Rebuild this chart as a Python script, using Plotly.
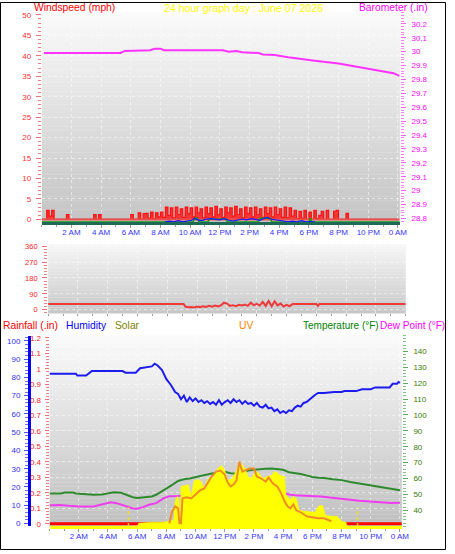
import plotly.graph_objects as go

W, H = 455, 554
FONT = "Liberation Sans, Arial, sans-serif"


def fx(p):
    return p / W


def fy(p):
    return 1 - p / H


# ---------------- data ----------------
x_tick_vals = [2, 4, 6, 8, 10, 12, 14, 16, 18, 20, 22, 24]
x_tick_text = ["2 AM", "4 AM", "6 AM", "8 AM", "10 AM", "12 PM", "2 PM", "4 PM",
               "6 PM", "8 PM", "10 PM", "0 AM"]

# Panel 1 : wind gust (mph), 10-minute samples
gust_mph = [
    0, 0, 2.2, 0.8, 2.2, 0,
    0, 0, 0, 0, 1.2, 0,
    0, 0, 0, 0, 0, 0,
    0, 0, 0, 1.2, 0, 1.2,
    0, 0, 0, 0, 0, 0,
    0, 0, 0, 0, 0, 0,
    1.2, 0, 0, 1.6, 0, 1.4,
    1.5, 0.3, 1.8, 0.2, 1.6, 0.6,
    1.8, 0.5, 3.0, 1.0, 2.8, 0.4,
    3.0, 1.2, 2.6, 0.5, 3.0, 1.4,
    2.8, 0.6, 3.0, 1.6, 2.6, 0.4,
    3.0, 1.4, 2.8, 0.6, 3.2, 1.2,
    2.6, 0.5, 3.0, 1.6, 2.8, 0.8,
    3.2, 1.2, 2.6, 0.4, 3.0, 1.4,
    2.8, 0.6, 3.0, 1.2, 2.6, 0.5,
    3.0, 1.4, 2.8, 0.6, 3.0, 1.2,
    2.6, 0.5, 3.0, 0.4, 2.8, 0.8,
    2.2, 0.2, 2.0, 0.3, 2.2, 0,
    1.8, 0, 2.2, 0.2, 1.0, 2.0,
    0, 2.2, 0, 0, 2.0, 2.2,
    0, 0, 0, 1.5, 0, 0,
    0, 0, 0, 0, 0, 0,
    0, 0, 0, 0, 0, 0,
    0, 0, 0, 0, 0, 0,
    0,
]
gust_time_h = [i / 6 for i in range(len(gust_mph))]

avg_time_h = [8.3, 8.6, 8.9, 9.2, 9.5, 9.8, 10.1, 10.3, 10.5, 10.8, 11.1, 11.4, 11.7,
              12.0, 12.3, 12.6, 12.9, 13.2, 13.5, 13.8, 14.1, 14.4, 14.7, 15.0, 15.2,
              15.4, 15.7, 16.0, 16.3, 16.6, 16.9, 17.2, 17.5, 17.8, 18.1, 18.4]
avg_mph = [0, 0.2, 0, 0.3, 0, 0.2, 0.4, 0.9, 0.5, 0.3, 0.7, 0.8, 0.7,
           0.5, 0.8, 0.4, 0.2, 0.5, 0.7, 0.5, 0.8, 0.6, 0.4, 0.9, 1.1,
           0.7, 0.5, 0.3, 0.1, 0, 0.2, 0, 0.3, 0, 0.1, 0]

speed_time_h = [0, 10.2, 10.3, 10.5, 10.6, 11.2, 11.3, 11.8, 12.4, 12.5, 14.6, 14.7,
                15.4, 15.5, 18.0, 18.1, 18.2, 24.1]
speed_mph = [0, 0, 0.9, 0.9, 0, 0, 0.8, 0.6, 0.8, 0, 0, 0.9, 0.9, 0, 0, 0.9, 0, 0]

baro_time_h = [0.15, 1.0, 1.5, 2.5, 3.5, 4.5, 5.3, 5.6, 7.3, 7.6, 8.0, 8.25, 12.2, 12.6,
               13.1, 13.5, 14.6, 14.9, 15.7, 16.6, 17.5, 18.4, 20.0, 21.4, 22.6, 23.7, 24.1]
baro_in = [29.99, 29.99, 29.985, 29.99, 29.985, 29.99, 29.99, 30.005, 30.01, 30.02, 30.02,
           30.01, 30.01, 30.0, 30.005, 29.995, 29.99, 29.98, 29.975, 29.96, 29.95, 29.935,
           29.915, 29.89, 29.87, 29.845, 29.825]

# Panel 2 : wind direction (degrees)
dir_time_h = [0, 9.1, 9.2, 9.4, 9.6, 9.8, 10.0, 10.2, 10.4, 10.6, 10.8, 11.0, 11.2, 11.4,
              11.6, 11.8, 12.0, 12.2, 12.4, 12.6, 12.8, 13.0, 13.2, 13.4, 13.6, 13.8,
              14.0, 14.2, 14.4, 14.6, 14.8, 15.0, 15.2, 15.4, 15.6, 15.8, 16.0, 16.2,
              16.4, 18.0, 18.1, 18.2, 24]
dir_deg = [32, 32, 18, 14, 16, 13, 18, 15, 20, 16, 22, 17, 24, 19,
           25, 40, 35, 22, 26, 20, 28, 24, 30, 22, 40, 26,
           34, 24, 45, 22, 50, 20, 48, 25, 35, 18, 28, 20,
           32, 32, 22, 32, 32]
compass_vals = [0, 90, 180, 270, 360]
compass_text = ["S", "W", "N", "E", "S"]

# Panel 3
hum_time_h = [0.0, 1.8, 1.9, 2.5, 2.9, 4.0, 5.0, 5.2, 5.9, 6.2, 7.0, 7.2, 7.4, 7.7, 8.0,
              8.3, 8.6, 8.8, 9.0, 9.2, 9.4, 9.6, 9.8, 10.0, 10.2, 10.4, 10.6, 10.8,
              11.0, 11.2, 11.4, 11.6, 11.8, 12.0, 12.2, 12.4, 12.6, 12.8, 13.0, 13.2,
              13.4, 13.6, 13.8, 14.0, 14.2, 14.4, 14.6, 14.8, 15.0, 15.2, 15.4, 15.6,
              15.8, 16.0, 16.2, 16.4, 16.6, 16.8, 17.0, 17.2, 17.4, 17.6, 17.8, 18.0,
              18.2, 18.4, 18.8, 19.5, 20.0, 20.2, 21.0, 21.4, 22.0, 22.3, 23.3, 23.5,
              23.8, 23.9, 24.0]
humidity_pct = [82, 82, 81, 81, 83.5, 83.5, 83.5, 82.6, 82.6, 85, 86, 87.5, 86.5, 84, 79,
                76, 72, 71, 68, 70, 66.5, 69, 67, 68.5, 66.5, 67.5, 66, 67,
                65.5, 66.5, 65, 67.5, 65, 66.5, 67.5, 66, 68, 66.5, 67.5, 65.5,
                67, 65.5, 66, 64.5, 66, 64, 63.5, 65, 63, 63.5, 61.5, 62.5,
                60.5, 61.5, 60.5, 62, 61.5, 63.5, 64.5, 64, 66, 66.5, 68, 69,
                70.5, 71.5, 71.5, 72, 72, 72.5, 72.5, 73.5, 73.5, 74.5, 74.5, 76.5,
                76.5, 77.5, 77]

temp_time_h = [0.0, 0.8, 1.0, 1.6, 1.8, 2.5, 3.0, 3.6, 4.0, 4.4, 4.9, 5.3, 5.7, 6.0, 6.4,
               6.8, 7.0, 7.3, 7.7, 8.0, 8.4, 8.8, 9.2, 9.6, 10.0, 10.4, 10.8, 11.2, 11.6,
               12.0, 12.4, 12.8, 13.2, 13.6, 14.0, 14.4, 14.8, 15.2, 15.6, 16.0, 16.4,
               16.8, 17.2, 17.6, 18.0, 18.4, 18.8, 19.4, 20.0, 20.6, 21.2, 21.8, 22.4,
               23.0, 23.6, 24.0]
temp_f = [50.5, 50.5, 51.2, 51.2, 50.6, 50, 49.8, 50, 50.8, 51.3, 51, 49.5, 48.2, 47.7, 48,
          48.3, 48.7, 49.8, 52, 53.5, 56, 58.5, 59.5, 60, 61, 61.8, 62.5, 63.3, 63.5,
          64.3, 63.3, 63, 63.6, 65, 65.5, 66, 66.2, 66.3, 66, 65.5, 64,
          63.5, 62.8, 62, 61, 60.5, 60.3, 59.5, 59, 57.8, 56.8, 55.8, 55,
          54, 53.2, 52.6]

dew_time_h = [0.0, 0.7, 1.3, 2.0, 3.0, 3.5, 4.2, 4.6, 5.2, 5.7, 6.0, 6.4, 6.8, 7.3, 7.8,
              8.2, 8.8, 9.4, 10.0, 10.6, 11.2, 12.0, 12.6, 13.2, 13.8, 14.4, 15.0, 15.6,
              16.0, 16.4, 16.8, 17.4, 18.0, 18.6, 19.2, 20.0, 20.6, 21.2, 22.0, 22.8,
              23.4, 24.0]
dew_f = [43.2, 43.4, 42.8, 42.4, 42.4, 43.5, 45, 44.5, 42.5, 41.2, 41, 42, 43.5, 44.5, 47.5,
         48.8, 49, 49.7, 50, 50.5, 50.8, 51, 51.5, 51.5, 52.3, 52.5, 52.5, 52.3,
         51, 50, 49.5, 49.3, 49, 48.7, 48, 47.5, 46.7, 46, 45.5, 45.2,
         44.6, 44.8]

solar_time_h = [0, 6.0, 6.1, 7.0, 7.8, 8.3, 8.5, 8.6, 8.75, 8.85, 8.95, 9.0, 9.2, 9.5, 9.7,
                9.9, 10.2, 10.4, 10.6, 10.8, 11.0, 11.2, 11.5, 11.8, 12.0, 12.2, 12.5,
                12.8, 13.0, 13.2, 13.4, 13.6, 13.8, 14.1, 14.3, 14.6, 14.9, 15.2, 15.4,
                15.6, 15.8, 16.1, 16.2, 16.5, 16.7, 16.9, 17.1, 17.5, 17.9, 18.2, 18.4,
                18.7, 18.9, 19.3, 19.7, 20.0, 20.3, 20.4, 24.13]
solar_wm2 = [0, 0, 30, 40, 40, 50, 60, 250, 300, 280, 60, 400, 410, 420, 310,
             460, 470, 450, 380, 460, 500, 480, 580, 610, 560, 460, 480,
             560, 650, 620, 580, 500, 480, 550, 540, 480, 500, 510, 550,
             540, 510, 500, 310, 270, 300, 280, 160, 150, 140, 140, 200,
             210, 110, 100, 100, 50, 40, 0, 0]

uv_time_h = [8.2, 8.4, 8.6, 8.8, 8.9, 9.0, 9.1, 9.4, 9.7, 10.0, 10.3, 10.6, 10.9, 11.1,
             11.4, 11.7, 12.0, 12.2, 12.4, 12.6, 12.8, 13.0, 13.2, 13.4, 13.7, 14.0, 14.2,
             14.5, 14.8, 15.0, 15.3, 15.6, 15.8, 16.1, 16.3, 16.5, 16.7, 16.9, 17.2,
             17.6, 18.0, 18.4, 18.8, 19.1, 19.3]
uv_index = [0.3, 1.5, 2.0, 1.8, 0.3, 0.3, 2.8, 2.9, 2.8, 3.2, 3.6, 3.8, 4.5, 5.0,
            5.5, 5.6, 5.2, 4.4, 4.0, 4.2, 4.6, 6.5, 5.5, 5.6, 5.8, 5.8, 5.0,
            4.8, 4.5, 4.9, 4.3, 4.0, 3.5, 2.5, 2.0, 1.8, 2.2, 1.6, 1.4,
            1.0, 0.9, 0.8, 0.8, 0.6, 0.5]

rain_time_h = [0, 24.13]
rain_in = [0, 0]

sun_event_h = [5.4, 21.1]

# ---------------- layout geometry (pixels) ----------------
P1 = dict(x0=42.5, x1=407, y0=10.5, y1=222)
P2 = dict(x0=49, x1=413, y0=244, y1=313.5)
P3 = dict(x0=50.5, x1=409, y0=336, y1=528)


def dom_x(p):
    return [fx(p["x0"]), fx(p["x1"])]


def dom_y(p):
    return [fy(p["y1"]), fy(p["y0"])]


def bands(p, c_top, c_bot, n=48):
    out = []
    h = (p["y1"] - p["y0"]) / n
    for i in range(n):
        t = i / (n - 1)
        c = [round(c_top[k] + (c_bot[k] - c_top[k]) * t) for k in range(3)]
        out.append(dict(type="rect", xref="paper", yref="paper", layer="below",
                        x0=fx(p["x0"]), x1=fx(p["x1"]),
                        y0=fy(p["y0"] + (i + 1) * h + 0.3), y1=fy(p["y0"] + i * h),
                        line=dict(width=0), fillcolor="rgb(%d,%d,%d)" % tuple(c)))
    return out


fig = go.Figure()

# Panel 1 traces
fig.add_trace(go.Scatter(x=gust_time_h, y=gust_mph, mode="lines", line_shape="hv",
                         line=dict(color="#ff1010", width=1.2), fill="tozeroy",
                         fillcolor="rgba(255,16,16,0.8)", xaxis="x", yaxis="y"))
fig.add_trace(go.Scatter(x=[0, 24.1], y=[0, 0], mode="lines",
                         line=dict(color="#e85050", width=2), xaxis="x", yaxis="y"))
fig.add_trace(go.Scatter(x=speed_time_h, y=speed_mph, mode="lines",
                         line=dict(color="#10a010", width=1.5), xaxis="x", yaxis="y3"))
fig.add_trace(go.Scatter(x=avg_time_h, y=avg_mph, mode="lines",
                         line=dict(color="#1a1aff", width=1.2), xaxis="x", yaxis="y3"))
fig.add_trace(go.Scatter(x=baro_time_h, y=baro_in, mode="lines",
                         line=dict(color="#ff33ff", width=2), xaxis="x", yaxis="y2"))

# Panel 2
fig.add_trace(go.Scatter(x=dir_time_h, y=dir_deg, mode="lines",
                         line=dict(color="#ee3a3a", width=2), xaxis="x2", yaxis="y4"))

# Panel 3
fig.add_trace(go.Scatter(x=solar_time_h, y=solar_wm2, mode="lines", fill="tozeroy",
                         fillcolor="#ffff00", line=dict(color="#ffff00", width=0.5),
                         xaxis="x3", yaxis="y9"))
for t in sun_event_h:
    fig.add_trace(go.Scatter(x=[t, t], y=[0, 190], mode="lines",
                             line=dict(color="#f0e000", width=1.5, dash="dot"),
                             xaxis="x3", yaxis="y9"))
fig.add_trace(go.Scatter(x=uv_time_h, y=uv_index, mode="lines",
                         line=dict(color="#f08c28", width=2), xaxis="x3", yaxis="y10"))
fig.add_trace(go.Scatter(x=temp_time_h, y=temp_f, mode="lines",
                         line=dict(color="#2f8a2f", width=2), xaxis="x3", yaxis="y8"))
fig.add_trace(go.Scatter(x=dew_time_h, y=dew_f, mode="lines",
                         line=dict(color="#f03cf0", width=2), xaxis="x3", yaxis="y8"))
fig.add_trace(go.Scatter(x=hum_time_h, y=humidity_pct, mode="lines",
                         line=dict(color="#1c1cf0", width=2), xaxis="x3", yaxis="y7"))
fig.add_trace(go.Scatter(x=rain_time_h, y=rain_in, mode="lines",
                         line=dict(color="#ff0000", width=3), xaxis="x3", yaxis="y6"))

TS = 8
grid = dict(showgrid=True, gridcolor="rgba(255,255,255,0.55)", griddash="dot", gridwidth=1)


def xaxis_cfg(p, show_labels, linecolor):
    d = dict(domain=dom_x(p), range=[0, 24.13 if show_labels else 24], tickmode="array",
             tickvals=x_tick_vals, ticktext=x_tick_text, showticklabels=show_labels,
             tickfont=dict(family=FONT, size=TS, color="#3535ff"), ticks="outside",
             ticklen=3, tickcolor="#9a9a9a", zeroline=False, fixedrange=True,
             ticklabelstandoff=-3,
             minor=dict(tickvals=list(range(0, 25)), ticks="outside", ticklen=2,
                        tickcolor="#9a9a9a"),
             **grid)
    if linecolor:
        d.update(showline=True, linecolor=linecolor, linewidth=2.5)
    else:
        d.update(showline=False)
    return d


fig.update_layout(
    width=W, height=H, margin=dict(l=0, r=0, t=0, b=0), autosize=False,
    paper_bgcolor="white", plot_bgcolor="rgba(0,0,0,0)", showlegend=False,
    xaxis=dict(xaxis_cfg(P1, True, "#1f6a56"), anchor="y"),
    yaxis=dict(domain=dom_y(P1), range=[-0.728, 50.6], anchor="x", side="left",
               tickvals=[0, 5, 10, 15, 20, 25, 30, 35, 40, 45, 50],
               tickfont=dict(family=FONT, size=TS, color="#ff3030"),
               ticks="outside", ticklen=5, tickcolor="#f07070", ticklabelstandoff=3,
               minor=dict(dtick=1, ticks="outside", ticklen=3, tickcolor="#f08080"),
               zeroline=False, showline=False, fixedrange=True, **grid),
    yaxis2=dict(range=[28.7714, 30.282], overlaying="y", anchor="x", side="right",
                tickvals=[28.8, 28.9, 29.0, 29.1, 29.2, 29.3, 29.4, 29.5, 29.6, 29.7,
                          29.8, 29.9, 30.0, 30.1, 30.2],
                ticktext=["28.8", "28.9", "29", "29.1", "29.2", "29.3", "29.4", "29.5",
                          "29.6", "29.7", "29.8", "29.9", "30", "30.1", "30.2"],
                tickfont=dict(family=FONT, size=TS, color="#ff00ff"),
                ticks="outside", ticklen=5, tickcolor="#ff60ff", ticklabelstandoff=4,
                minor=dict(dtick=0.02, ticks="outside", ticklen=3, tickcolor="#ff80ff"),
                showgrid=False, zeroline=False, showline=False, fixedrange=True),
    yaxis3=dict(range=[-0.121, 51.2], overlaying="y", anchor="x", visible=False,
                fixedrange=True),
    xaxis2=dict(xaxis_cfg(P2, False, None), anchor="y4", ticks=""),
    yaxis4=dict(domain=dom_y(P2), range=[-19.7, 371.25], anchor="x2", side="left",
                tickvals=[0, 90, 180, 270, 360],
                tickfont=dict(family=FONT, size=7.5, color="#ff2020"),
                ticks="outside", ticklen=5, tickcolor="#f07070", ticklabelstandoff=3,
                minor=dict(dtick=18, ticks="outside", ticklen=3, tickcolor="#f08080"),
                zeroline=False, showline=False, fixedrange=True, **grid),
    yaxis5=dict(range=[-19.7, 371.25], overlaying="y4", anchor="x2", side="right",
                tickvals=compass_vals, ticktext=compass_text, ticks="",
                tickfont=dict(family=FONT, size=11, color="#ff2020"),
                ticklabelstandoff=13, showgrid=False, zeroline=False, showline=False,
                fixedrange=True),
    xaxis3=dict(xaxis_cfg(P3, True, "#ffff00"), anchor="y6"),
    yaxis6=dict(domain=dom_y(P3), range=[-0.016, 1.2147], anchor="x3", side="left",
                tickvals=[0, 0.1, 0.2, 0.3, 0.4, 0.5, 0.6, 0.7, 0.8, 0.9, 1.0, 1.1, 1.2],
                ticktext=["0", "0.1", "0.2", "0.3", "0.4", "0.5", "0.6", "0.7", "0.8",
                          "0.9", "1", "1.1", "1.2"],
                tickfont=dict(family=FONT, size=TS, color="#ff2020"),
                ticks="outside", ticklen=4, tickcolor="#f07070", ticklabelstandoff=2,
                minor=dict(dtick=0.02, ticks="outside", ticklen=3, tickcolor="#f08080"),
                zeroline=False, showline=False, fixedrange=True, **grid),
    yaxis7=dict(range=[-1.47, 102.9], overlaying="y6", anchor="free", position=fx(29.5),
                side="left", tickvals=[0, 10, 20, 30, 40, 50, 60, 70, 80, 90, 100],
                tickfont=dict(family=FONT, size=TS, color="#3030ff"),
                ticks="outside", ticklen=4, tickcolor="#5050ff", ticklabelstandoff=2,
                minor=dict(dtick=2, ticks="outside", ticklen=3, tickcolor="#7070ff"),
                showline=True, linecolor="#0000ff", linewidth=3,
                showgrid=False, zeroline=False, fixedrange=True),
    yaxis8=dict(range=[30, 150], overlaying="y6", anchor="x3", side="right",
                tickvals=[40, 50, 60, 70, 80, 90, 100, 110, 120, 130, 140],
                tickfont=dict(family=FONT, size=TS, color="#3a7a00"),
                ticks="outside", ticklen=5, tickcolor="#60a860", ticklabelstandoff=4,
                minor=dict(dtick=2, ticks="outside", ticklen=3, tickcolor="#80c080"),
                showgrid=False, zeroline=False, showline=False, fixedrange=True),
    yaxis9=dict(range=[0, 1920], overlaying="y6", anchor="x3", visible=False,
                fixedrange=True),
    yaxis10=dict(range=[0, 19.2], overlaying="y6", anchor="x3", visible=False,
                 fixedrange=True),
)

shapes = []
shapes += bands(P1, (250, 250, 250), (196, 196, 196))
shapes += bands(P2, (246, 246, 246), (200, 200, 200))
shapes += bands(P3, (250, 250, 250), (192, 192, 192))
shapes.append(dict(type="rect", xref="paper", yref="paper", x0=fx(0.5), x1=fx(453.5),
                   y0=fy(551.5), y1=fy(0.5), line=dict(color="black", width=1),
                   layer="above"))
fig.update_layout(shapes=shapes)


def label(text, xpx, ypx, color, anchor="left", size=10.3):
    fig.add_annotation(text=text, xref="paper", yref="paper", x=fx(xpx), y=fy(ypx),
                       xanchor=anchor, yanchor="middle", showarrow=False,
                       font=dict(family=FONT, size=size, color=color))


label("Windspeed (mph)", 33, 6, "#ff0000", size=10.3)
label("24 hour graph day : June 07 2026", 248, 6, "#ffff00", anchor="center", size=10.6)
label("Barometer (.in)", 363, 6, "#ff00ff", size=10.3)
label("Rainfall (.in)", 1, 326, "#ff0000")
label("Humidity", 65, 326, "#0000ff")
label("Solar", 115, 326, "#808000")
label("UV", 241, 326, "#ff8000")
label("Temperature (°F)", 306, 326, "#008000", size=10)
label("Dew Point (°F)", 385, 326, "#ff00ff", size=10)

fig.write_html("out.html")
